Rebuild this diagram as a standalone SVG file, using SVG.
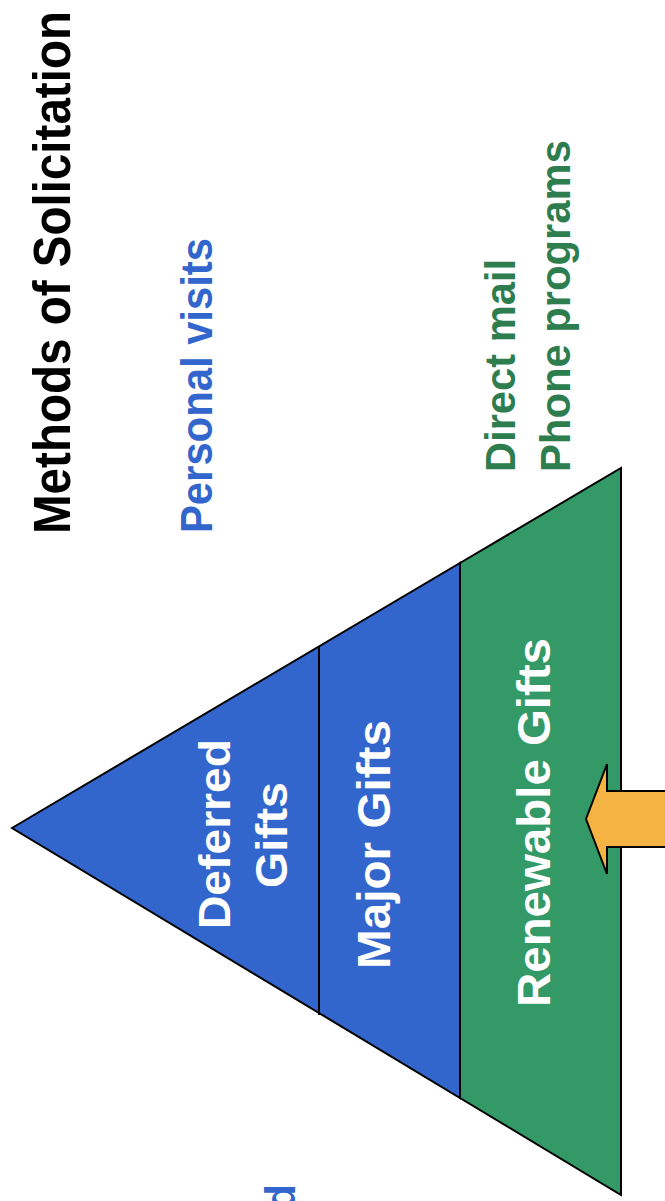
<svg xmlns="http://www.w3.org/2000/svg" width="665" height="1201" viewBox="0 0 665 1201">
<style>
  .t { font-family: "Liberation Sans", Arial, sans-serif; font-weight: bold; }
  .w { fill: #ffffff; }
  .b { fill: #3366CC; }
  .g { fill: #2E7D4F; }
  .k { fill: #000000; }
  .edge { stroke: #000; stroke-width: 2; stroke-linejoin: miter; }
</style>
<rect width="665" height="1201" fill="#ffffff"/>
<g id="title">
  <text class="t k" font-size="51" transform="translate(70,534) rotate(-90)" textLength="523" lengthAdjust="spacingAndGlyphs">Methods of Solicitation</text>
</g>
<g id="personal-visits">
  <text class="t b" font-size="45" transform="translate(212,533) rotate(-90)" textLength="295" lengthAdjust="spacingAndGlyphs">Personal visits</text>
</g>
<g id="direct-phone">
  <text class="t g" font-size="43" transform="translate(515,472) rotate(-90)" textLength="213" lengthAdjust="spacingAndGlyphs">Direct mail</text>
  <text class="t g" font-size="43" transform="translate(570,472) rotate(-90)" textLength="332" lengthAdjust="spacingAndGlyphs">Phone programs</text>
</g>
<g id="cut-label">
  <text class="t b" font-size="42" text-anchor="end" transform="translate(295,1184) rotate(-90)">d</text>
</g>
<g id="pyramid-blue">
  <polygon class="edge" fill="#3366CC" points="12,828 460,563 460,1098"/>
</g>
<g id="pyramid-green">
  <polygon class="edge" fill="#339966" points="460,563 621,468 621,1195 460,1098"/>
</g>
<g id="connectors">
  <line class="edge" x1="319" y1="647" x2="319" y2="1015"/>
  <line class="edge" x1="460" y1="563" x2="460" y2="1098"/>
</g>
<g id="deferred-gifts">
  <text class="t w" font-size="45" transform="translate(230,929) rotate(-90)" textLength="190" lengthAdjust="spacingAndGlyphs">Deferred</text>
  <text class="t w" font-size="45" transform="translate(287,888) rotate(-90)" textLength="106" lengthAdjust="spacingAndGlyphs">Gifts</text>
</g>
<g id="major-gifts">
  <text class="t w" font-size="46" transform="translate(390,969) rotate(-90)" textLength="249" lengthAdjust="spacingAndGlyphs">Major Gifts</text>
</g>
<g id="renewable-gifts">
  <text class="t w" font-size="46" transform="translate(550,1007) rotate(-90)" textLength="369" lengthAdjust="spacingAndGlyphs">Renewable Gifts</text>
</g>
<g id="arrow">
  <polygon class="edge" fill="#F4B342" points="586,819 607,764 607,791 670,791 670,847 607,847 607,874"/>
</g>
</svg>
